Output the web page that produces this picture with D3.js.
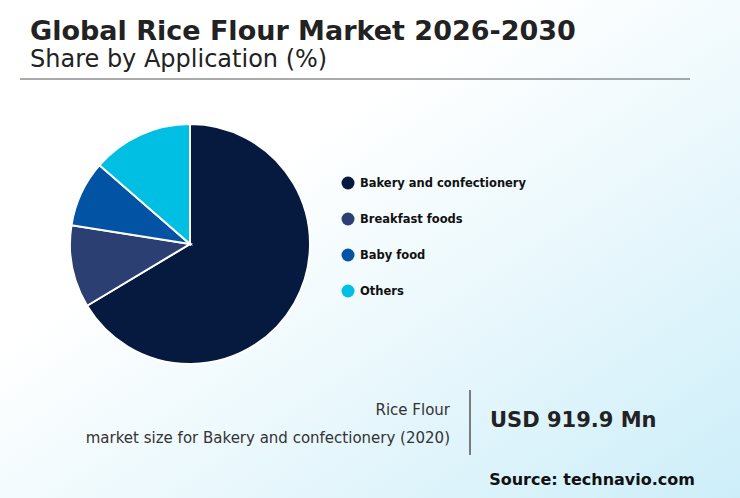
<!DOCTYPE html>
<html><head><meta charset="utf-8">
<script src="https://cdn.jsdelivr.net/npm/d3@7"></script>
<style>body{margin:0;font-family:"DejaVu Sans",sans-serif}</style>
</head><body>
<svg id="c" width="740" height="498"></svg>
<script>
const categories=["Bakery and confectionery","Breakfast foods","Baby food","Others"];
const values=[66.4,11.1,8.9,13.6];
const colors=["#061a40","#2b3f72","#0353a4","#00bfe3"];
const svg=d3.select("#c");
const defs=svg.append("defs");
const g=defs.append("linearGradient").attr("id","bg").attr("x1","0").attr("y1","0").attr("x2","1").attr("y2","1");
g.append("stop").attr("offset","0.35").attr("stop-color","#ffffff");
g.append("stop").attr("offset","1").attr("stop-color","#cdeef9");
svg.append("rect").attr("width",740).attr("height",498).attr("fill","url(#bg)");
svg.append("text").attr("x",30).attr("y",40).attr("font-size",27).attr("font-weight","bold").attr("fill","#222").text("Global Rice Flour Market 2026-2030");
svg.append("text").attr("x",30).attr("y",67).attr("font-size",24).attr("fill","#222").text("Share by Application (%)");
svg.append("line").attr("x1",20).attr("x2",690).attr("y1",79).attr("y2",79).attr("stroke","#555").attr("stroke-width",1.2);
const pie=d3.pie().sort(null)(values);
const arc=d3.arc().innerRadius(0).outerRadius(120);
svg.append("g").attr("transform","translate(190,244)").selectAll("path").data(pie).join("path")
 .attr("d",arc).attr("fill",(d,i)=>colors[i]).attr("stroke","#fff").attr("stroke-width",2);
const lg=svg.append("g");
categories.forEach((c,i)=>{
 const y=183+i*36;
 lg.append("circle").attr("cx",348).attr("cy",y).attr("r",6.5).attr("fill",colors[i]);
 lg.append("text").attr("x",360).attr("y",y+4).attr("font-size",11.5).attr("font-weight","bold").attr("fill","#111").text(c);
});
svg.append("text").attr("x",450).attr("y",415).attr("text-anchor","end").attr("font-size",15).attr("fill","#333").text("Rice Flour");
svg.append("text").attr("x",450).attr("y",443).attr("text-anchor","end").attr("font-size",15).attr("fill","#333").text("market size for Bakery and confectionery (2020)");
svg.append("line").attr("x1",470).attr("x2",470).attr("y1",390).attr("y2",455).attr("stroke","#555").attr("stroke-width",1.5);
svg.append("text").attr("x",490).attr("y",427).attr("font-size",21).attr("font-weight","bold").attr("fill","#222").text("USD 919.9 Mn");
svg.append("text").attr("x",695).attr("y",485).attr("text-anchor","end").attr("font-size",16).attr("font-weight","bold").attr("fill","#111").text("Source: technavio.com");
</script></body></html>
